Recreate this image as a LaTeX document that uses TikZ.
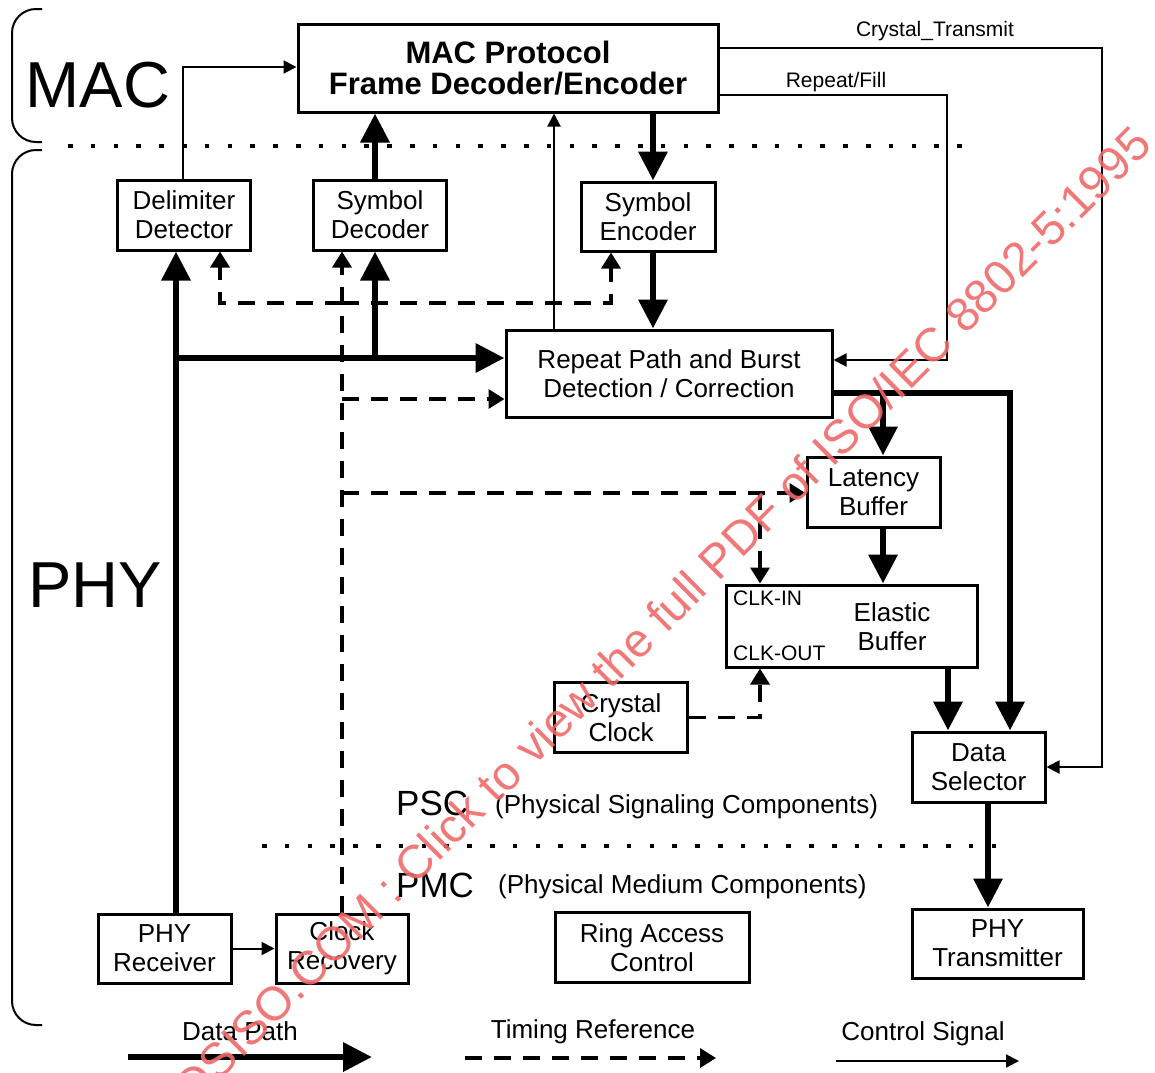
\documentclass[tikz,border=0pt]{standalone}
\usepackage{fontspec}
\setmainfont{Liberation Sans}
\usetikzlibrary{arrows.meta}
\definecolor{wmred}{RGB}{240,105,105}
\begin{document}
\begin{tikzpicture}[x=1pt,y=-1pt,
  box/.style={draw, line width=3pt, inner sep=0pt, align=center, font=\fontsize{26}{29}\selectfont},
  txt/.style={inner sep=0pt, font=\fontsize{26}{29}\selectfont},
  small/.style={inner sep=0pt, font=\fontsize{21}{21}\selectfont},
  dpath/.style={line width=6.5pt, -{Triangle[length=29pt,width=28pt]}},
  tref/.style={line width=3.5pt, dash pattern=on 17pt off 12pt, -{Triangle[length=16pt,width=19pt]}},
  csig/.style={line width=2pt, -{Triangle[length=13pt,width=13pt]}},
  dotsep/.style={line width=4.5pt, dash pattern=on 4.5pt off 18.3pt},
  brace/.style={line width=2pt, rounded corners=24pt},
  wm/.style={inner sep=0pt, text=wmred, opacity=0.9, font=\fontsize{47.5}{47.5}\selectfont}]
\useasboundingbox (0,0) rectangle (1155,1072);

% braces and big labels
\draw[brace] (42,9) -- (12,9) -- (12,142) -- (42,142);
\draw[brace] (42,150) -- (12,150) -- (12,1025) -- (42,1025);
\node[inner sep=0pt, anchor=base, font=\fontsize{65}{65}\selectfont] (maclbl) at (98,107) {MAC};
\node[inner sep=0pt, anchor=base, font=\fontsize{65}{65}\selectfont] (phylbl) at (95,607) {PHY};

% dotted separators
\coordinate (dA) at (68,146);
\coordinate (dB) at (972,146);
\coordinate (dC) at (262,846);
\coordinate (dD) at (1012,846);
\draw[dotsep] (dA) -- (dB);
\draw[dotsep] (dC) -- (dD);

% boxes
\node[box, minimum width=420pt, minimum height=88pt, font=\fontsize{31}{31}\selectfont\bfseries] (mac) at (508,68) {MAC Protocol\\Frame Decoder/Encoder};
\node[box, minimum width=133pt, minimum height=70pt] (delim) at (184,215) {Delimiter\\Detector};
\node[box, minimum width=133pt, minimum height=70pt] (decoder) at (380,215) {Symbol\\Decoder};
\node[box, minimum width=134pt, minimum height=69pt] (encoder) at (648,216.5) {Symbol\\Encoder};
\node[box, minimum width=326pt, minimum height=87pt] (repeat) at (669,373.5) {Repeat Path and Burst\\Detection / Correction};
\node[box, minimum width=133pt, minimum height=70pt] (latency) at (873.5,492) {Latency\\Buffer};
\node[box, minimum width=251pt, minimum height=82pt] (elastic) at (851.5,626) {};
\node[txt, align=center] (elastictxt) at (892,627) {Elastic\\Buffer};
\node[small, anchor=west] (clkin) at (733,598) {CLK-IN};
\node[small, anchor=west] (clkout) at (733,653) {CLK-OUT};
\node[box, minimum width=133pt, minimum height=70pt] (crystal) at (621,717.5) {Crystal\\Clock};
\node[box, minimum width=133pt, minimum height=70pt] (datasel) at (978.5,767) {Data\\Selector};
\node[box, minimum width=133pt, minimum height=69pt] (recv) at (164.5,948.5) {PHY\\Receiver};
\node[box, minimum width=132pt, minimum height=69pt] (clockrec) at (342,948.5) {Clock\\Recovery};
\node[box, minimum width=194pt, minimum height=70pt] (ring) at (652,947.5) {Ring Access\\Control};
\node[box, minimum width=171pt, minimum height=69pt] (phytx) at (997.5,943.5) {PHY\\Transmitter};

% section labels
\node[inner sep=0pt, anchor=base west, font=\fontsize{35}{35}\selectfont] (psc) at (396,815) {PSC};
\node[txt, anchor=base west] (psctxt) at (495,813) {(Physical Signaling Components)};
\node[inner sep=0pt, anchor=base west, font=\fontsize{35}{35}\selectfont] (pmc) at (396,897) {PMC};
\node[txt, anchor=base west] (pmctxt) at (498,893) {(Physical Medium Components)};

% data path connectors
\coordinate (jx) at (176,358);
\coordinate (jd) at (375,358);
\coordinate (encx) at (653,150);
\coordinate (rj) at (1010,393);
\coordinate (lj) at (883,393);
\coordinate (ej) at (948,700);
\coordinate (dj) at (988,850);
\draw[dpath] (recv.north -| jx) -- (jx |- delim.south);
\draw[dpath] (jx) -- (jx -| repeat.west);
\draw[dpath] (jd) -- (jd |- decoder.south);
\draw[dpath] (decoder.north -| jd) -- (jd |- mac.south);
\draw[dpath] (mac.south -| encx) -- (encx |- encoder.north);
\draw[dpath] (encoder.south -| encx) -- (encx |- repeat.north);
\draw[dpath] (repeat.east |- rj) -- (rj) -- (rj |- datasel.north);
\draw[dpath] (lj) -- (lj |- latency.north);
\draw[dpath] (latency.south -| lj) -- (lj |- elastic.north);
\draw[dpath] (elastic.south -| ej) -- (ej |- datasel.north);
\draw[dpath] (datasel.south -| dj) -- (dj |- phytx.north);

% timing reference connectors
\coordinate (tx) at (342,303);
\coordinate (tl) at (220,303);
\coordinate (tr) at (611,303);
\coordinate (t3) at (342,399);
\coordinate (t4) at (342,493);
\coordinate (t5) at (760,493);
\draw[tref] (clockrec.north) -- (clockrec.north |- decoder.south);
\draw[tref] (tx) -- (tl) -- (tl |- delim.south);
\draw[tref] (tx) -- (tr) -- (tr |- encoder.south);
\draw[tref] (t3) -- (t3 -| repeat.west);
\draw[tref] (t4) -- (t4 -| latency.west);
\draw[tref] (t5) -- (t5 |- elastic.north);
\draw[tref] (crystal.east) -| (elastic.south -| t5);

% control signal connectors
\coordinate (c1) at (183,67);
\coordinate (c2) at (554,200);
\coordinate (ctA) at (1102,48);
\coordinate (ctB) at (1102,767);
\coordinate (rfA) at (947,95);
\coordinate (rfB) at (947,360);
\draw[csig] (delim.north -| c1) -- (c1) -- (c1 -| mac.west);
\draw[csig] (repeat.north -| c2) -- (c2 |- mac.south);
\draw[csig] (mac.east |- ctA) -- (ctA) -- (ctB) -- (datasel.east |- ctB);
\draw[csig] (mac.east |- rfA) -- (rfA) -- (rfB) -- (repeat.east |- rfB);
\draw[csig] (recv.east) -- (clockrec.west);
\node[small] (ctlbl) at (935,31) {Crystal\_Transmit};
\node[small] (rflbl) at (836,82) {Repeat/Fill};

% legend
\coordinate (lga) at (128,1057);
\coordinate (lgb) at (372,1057);
\coordinate (lta) at (465,1058);
\coordinate (ltb) at (716,1058);
\coordinate (lca) at (836,1061);
\coordinate (lcb) at (1019,1061);
\draw[dpath] (lga) -- (lgb);
\draw[tref] (lta) -- (ltb);
\draw[csig] (lca) -- (lcb);
\node[txt, anchor=base] (lgdata) at (240,1040) {Data Path};
\node[txt, anchor=base] (lgtime) at (593,1038) {Timing Reference};
\node[txt, anchor=base] (lgctrl) at (923,1040) {Control Signal};

% watermark
\begin{scope}
\clip (0,0) rectangle (1155,1072);
\node[wm, rotate=45, anchor=base east] (wmark) at (1154,147) {STANDARDSISO.COM : Click to view the full PDF of ISO/IEC 8802-5:1995};
\end{scope}
\end{tikzpicture}
\end{document}
